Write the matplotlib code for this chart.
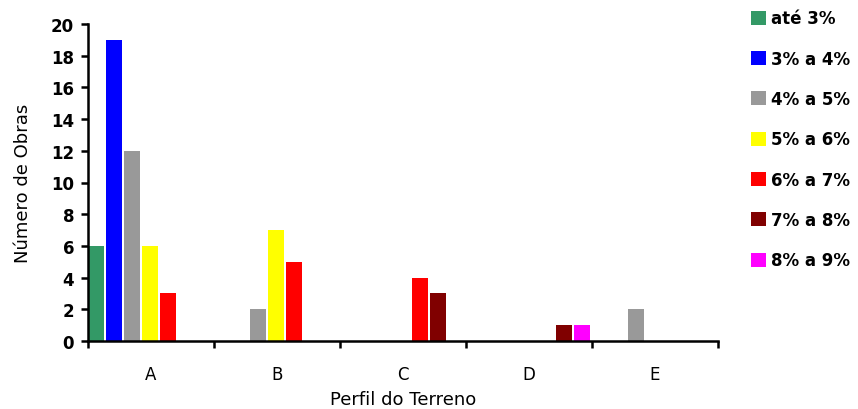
import numpy as np
import matplotlib
matplotlib.use("Agg")
from matplotlib import pyplot as plt

plt.rcParams['font.family'] = ['DejaVu Sans']

perfis = ['A', 'B', 'C', 'D', 'E']
faixas = ['até 3%', '3% a 4%', '4% a 5%', '5% a 6%', '6% a 7%', '7% a 8%', '8% a 9%']
cores = ['#339966', '#0000FF', '#999999', '#FFFF00', '#FF0000', '#800000', '#FF00FF']

ate3 = [6, 0, 0, 0, 0]
de3a4 = [19, 0, 0, 0, 0]
de4a5 = [12, 2, 0, 0, 2]
de5a6 = [6, 7, 0, 0, 0]
de6a7 = [3, 5, 4, 0, 0]
de7a8 = [0, 0, 3, 1, 0]
de8a9 = [0, 0, 0, 1, 0]

series = [ate3, de3a4, de4a5, de5a6, de6a7, de7a8, de8a9]

fig = plt.figure(figsize=(8.58, 4.10), dpi=100)
ax = fig.add_axes([88/858, 68/410, 630/858, 317/410])

n = len(series)
x = np.arange(len(perfis))
for k in range(n):
	ax.bar(x + k/n, series[k], width=0.9/n, align='edge', color=cores[k], label=faixas[k], zorder=2)

ax.set_xlim(0, len(perfis))
ax.set_ylim(0, 20)
ax.set_yticks(range(0, 21, 2))
ax.set_xticks(x + 0.5)
ax.set_xticklabels(perfis)
ax.set_xticks(np.arange(len(perfis)+1), minor=True)

for s in ['top', 'right']:
	ax.spines[s].set_visible(False)
for s in ['left', 'bottom']:
	ax.spines[s].set_linewidth(1.8)
	ax.spines[s].set_zorder(3)

ax.tick_params(axis='y', length=5, width=1.8, labelsize=12, pad=5)
ax.tick_params(axis='x', which='major', length=0, labelsize=12, pad=17)
ax.tick_params(axis='x', which='minor', length=5, width=1.8)
for t in ax.get_yticklabels():
	t.set_fontweight('bold')

ax.set_xlabel('Perfil do Terreno', fontsize=13, labelpad=5)
ax.set_ylabel('Número de Obras', fontsize=13, labelpad=14)

ax.legend(loc='upper left', bbox_to_anchor=(739/858, 1.003), bbox_transform=fig.transFigure,
	frameon=False, prop={'size': 12, 'weight': 'bold'}, handlelength=0.9, handleheight=0.9,
	handletextpad=0.3, labelspacing=1.34, borderaxespad=0.3)

plt.savefig('out.png', dpi=100)
